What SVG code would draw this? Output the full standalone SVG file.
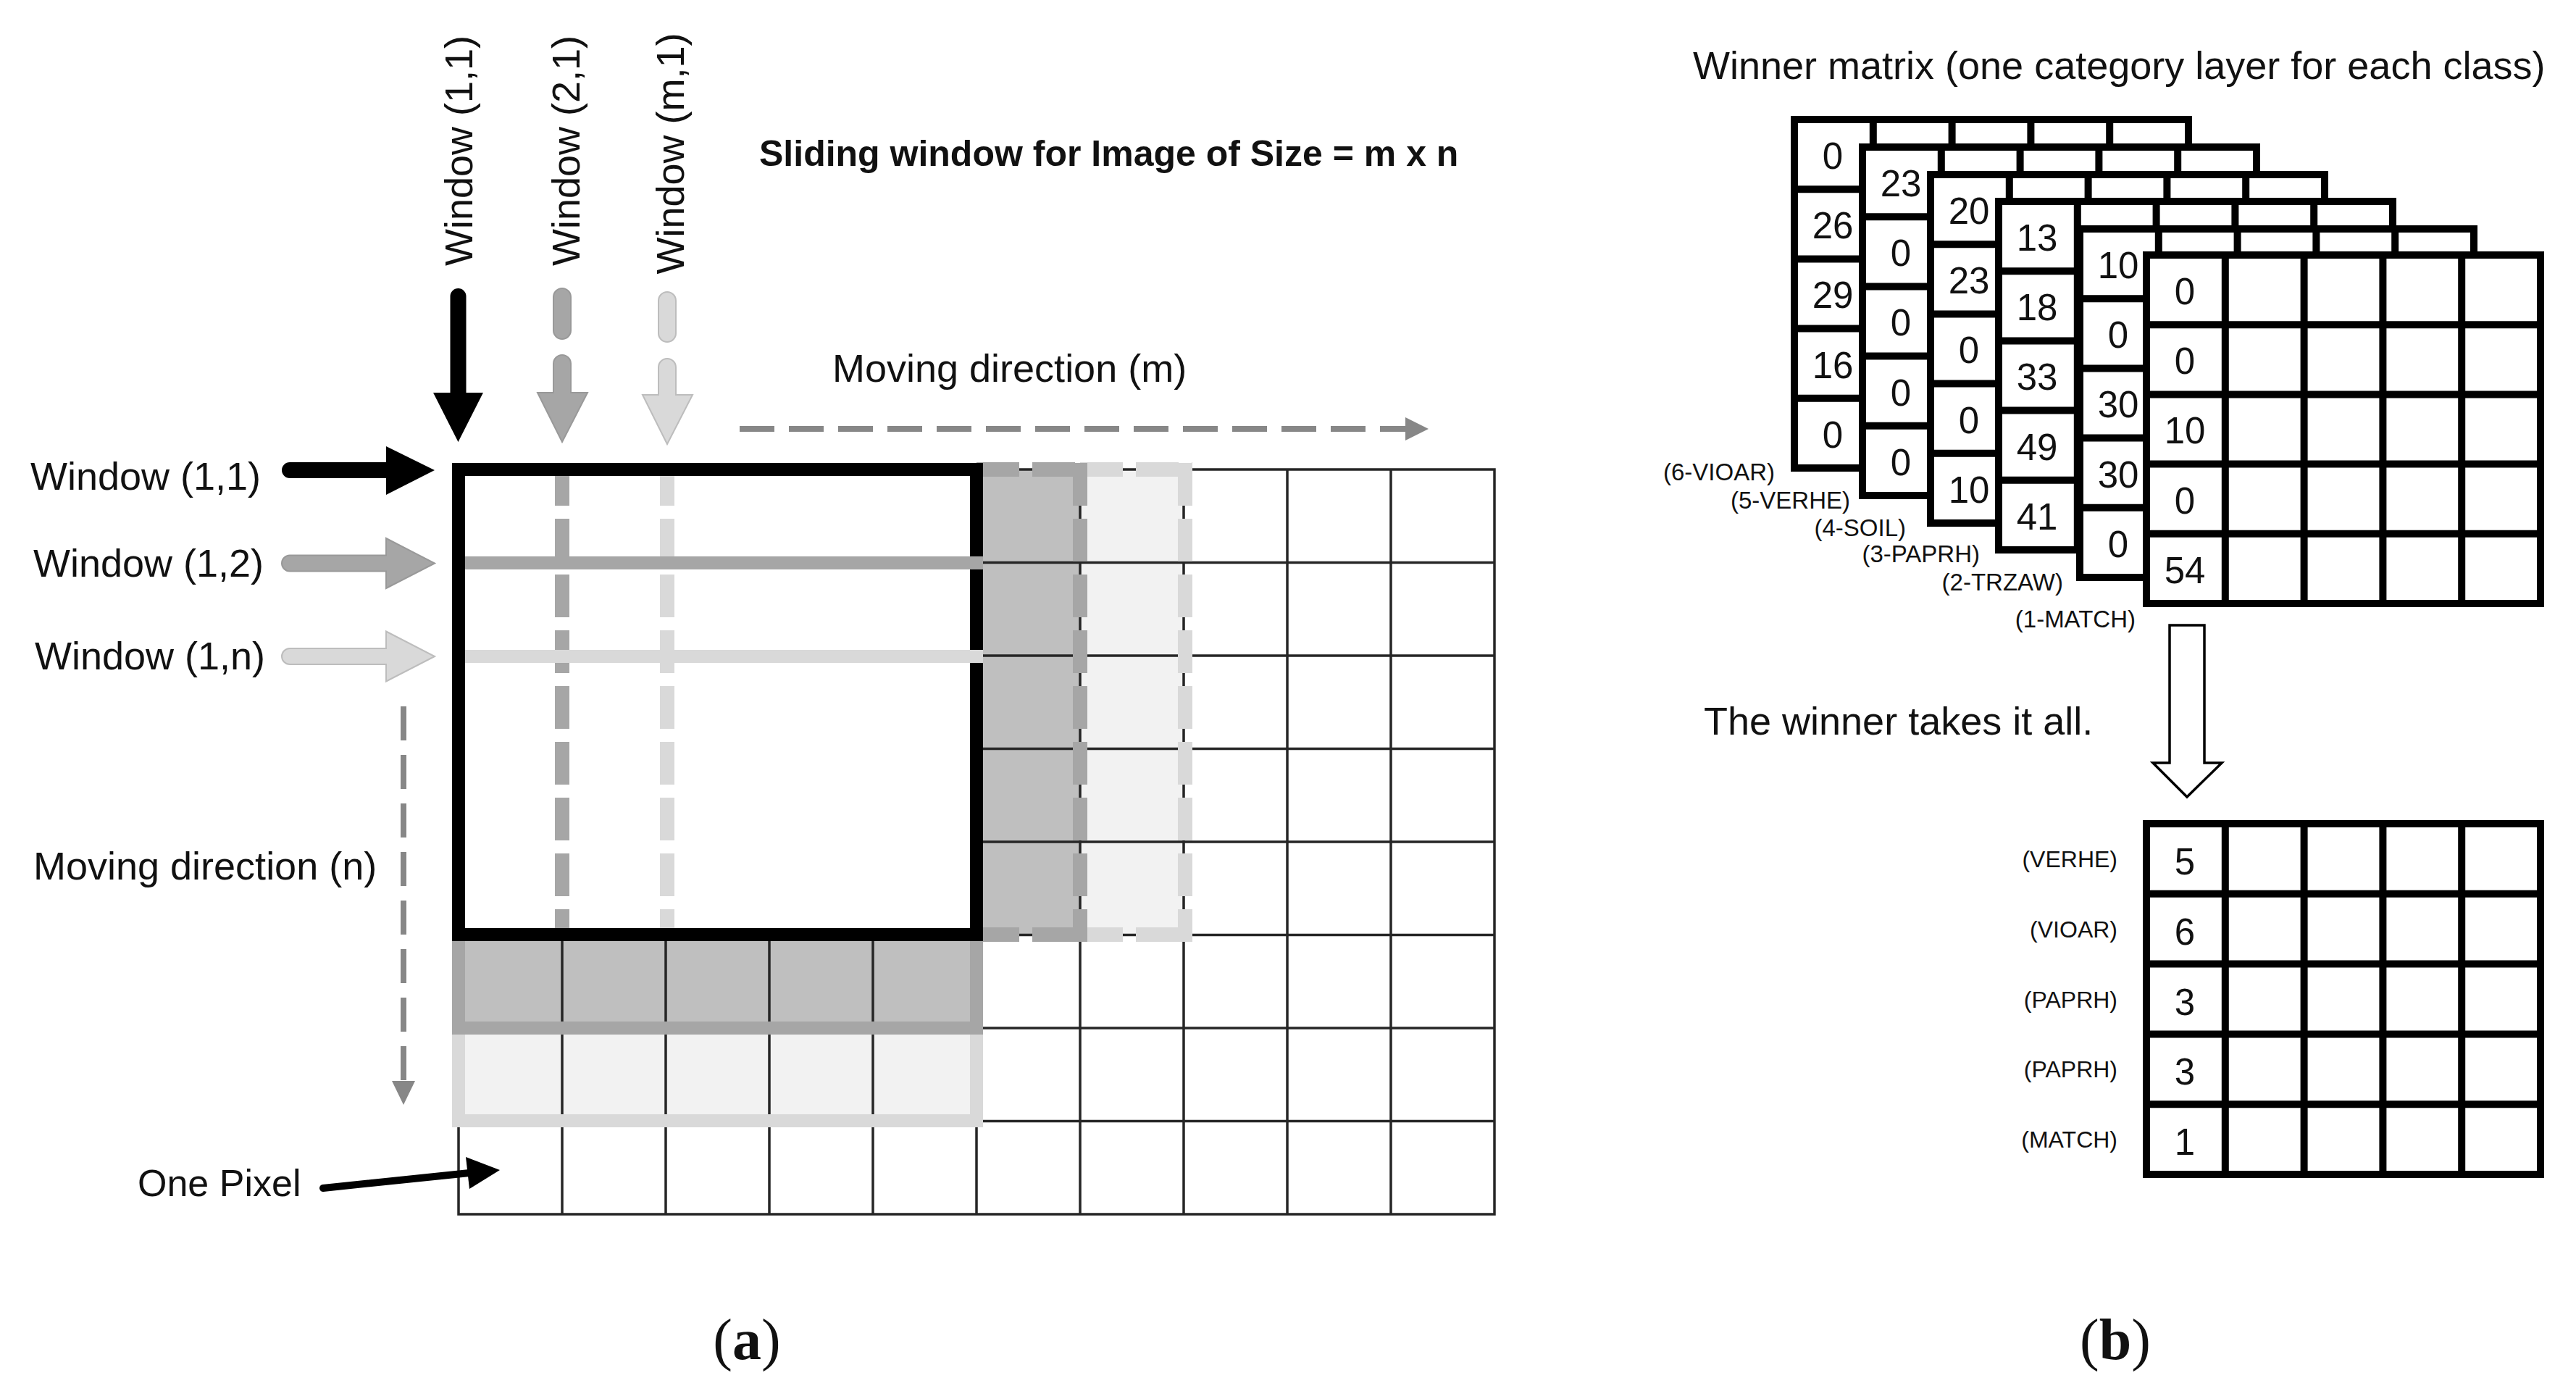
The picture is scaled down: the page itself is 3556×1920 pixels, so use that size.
<svg xmlns="http://www.w3.org/2000/svg" width="3556" height="1920" viewBox="0 0 3556 1920">
<style>
text{font-family:"Liberation Sans",Arial,sans-serif;fill:#111}
.l54{font-size:54px}
.num{font-size:51px;text-anchor:middle}
.cls{font-size:33px;text-anchor:end}
.rcl{font-size:32px;text-anchor:end}
.grid{fill:none;stroke:#262626;stroke-width:3.5;stroke-linecap:square}
.mat{fill:none;stroke:#000;stroke-width:10}
.dg{fill:none;stroke:#a6a6a6;stroke-width:20;stroke-dasharray:59 18}
.dl{fill:none;stroke:#d9d9d9;stroke-width:20;stroke-dasharray:59 18}
.mv{fill:none;stroke:#878787;stroke-width:8}
.cap{font-family:"Liberation Serif","Times New Roman",serif;font-size:80px;text-anchor:middle}
</style>
<defs>
<g id="m5">
<rect x="0" y="0" width="544" height="481" fill="#fff" stroke="#000" stroke-width="10"/>
<path class="mat" d="M108.8 0V481M217.6 0V481M326.4 0V481M435.2 0V481M0 96.2H544M0 192.4H544M0 288.6H544M0 384.8H544"/>
</g>
</defs>
<rect width="3556" height="1920" fill="#fff"/>

<!-- Panel (a) -->
<g id="pixel-grid">
<rect x="1348" y="648" width="143" height="642" fill="#bfbfbf"/>
<rect x="1491" y="648" width="145" height="642" fill="#f2f2f2"/>
<rect x="633" y="1290" width="715" height="129" fill="#bfbfbf"/>
<rect x="633" y="1419" width="715" height="128" fill="#f2f2f2"/>
<path class="grid" d="M633 648V1676M776 648V1676M919 648V1676M1062 648V1676M1205 648V1676M1348 648V1676M1491 648V1676M1634 648V1676M1777 648V1676M1920 648V1676M2063 648V1676M633 648H2063M633 776.5H2063M633 905H2063M633 1033.5H2063M633 1162H2063M633 1290.5H2063M633 1419H2063M633 1547.5H2063M633 1676H2063"/>
<rect x="633" y="648" width="715" height="642" fill="#fff"/>
</g>
<g id="window-m-1">
<path class="dl" d="M921 639V1290"/>
<path class="dl" d="M1636 639V1300"/>
<path class="dl" d="M1491 648H1646"/>
<path class="dl" d="M1491 1290H1646"/>
</g>
<g id="window-2-1">
<path class="dg" d="M776 639V1290"/>
<path class="dg" d="M1491 639V1300"/>
<path class="dg" d="M1348 648H1501"/>
<path class="dg" d="M1348 1290H1501"/>
</g>
<g id="window-1-n">
<rect x="633" y="906" width="715" height="641" fill="none" stroke="#d9d9d9" stroke-width="18"/>
</g>
<g id="window-1-2">
<rect x="633" y="777" width="715" height="642" fill="none" stroke="#a6a6a6" stroke-width="18"/>
</g>
<g id="window-1-1">
<rect x="633" y="648" width="715" height="642" fill="none" stroke="#000" stroke-width="18"/>
</g>
<g id="window-row-lines">
<path d="M642 906H1357" stroke="#d9d9d9" stroke-width="18"/>
<path d="M642 777H1357" stroke="#a6a6a6" stroke-width="18"/>
</g>

<g id="connectors">
<path d="M621.5 542V409A11 11 0 0 1 643.5 409V542H667L632.5 610L598 542Z" fill="#000"/>
<rect x="764" y="398" width="24" height="70" rx="12" fill="#a6a6a6" stroke="#999" stroke-width="2"/>
<path d="M764 542V502A12 12 0 0 1 788 502V542H811L776 610L742 542Z" fill="#a6a6a6" stroke="#999" stroke-width="2"/>
<rect x="909" y="403" width="24" height="69" rx="12" fill="#d9d9d9" stroke="#bdbdbd" stroke-width="2"/>
<path d="M909 545V507A12 12 0 0 1 933 507V545H956L921 613L887 545Z" fill="#d9d9d9" stroke="#bdbdbd" stroke-width="2"/>
<path d="M600 649L533 683V660H400A11 11 0 0 1 400 638H533V616Z" fill="#000"/>
<path d="M600 777.5L533 812V788.5H400A11 11 0 0 1 400 766.5H533V743Z" fill="#a6a6a6" stroke="#999" stroke-width="2"/>
<path d="M600 906L533 940.5V917H400A11 11 0 0 1 400 895H533V871.5Z" fill="#d9d9d9" stroke="#bdbdbd" stroke-width="2"/>
<path class="mv" d="M557 975V1493" stroke-dasharray="47 20"/>
<polygon points="541,1492 573,1492 557,1525" fill="#878787"/>
<path class="mv" d="M1021 592H1941" stroke-dasharray="48 20"/>
<polygon points="1940,576 1940,608 1972,592" fill="#878787"/>
<line x1="446" y1="1640" x2="648" y2="1619" stroke="#000" stroke-width="10" stroke-linecap="round"/>
<polygon points="643,1597 648,1641 690,1615" fill="#000"/>
<polygon points="2995,863 3043,863 3043,1053 3067,1053 3019,1100 2972,1053 2995,1053" fill="#fff" stroke="#000" stroke-width="3.5"/>
</g>

<g id="labels-a">
<text class="l54" transform="translate(652,208) rotate(-90)" text-anchor="middle">Window (1,1)</text>
<text class="l54" transform="translate(800,208) rotate(-90)" text-anchor="middle">Window (2,1)</text>
<text class="l54" transform="translate(944,212) rotate(-90)" text-anchor="middle">Window (m,1)</text>
<text x="1048" y="229" font-size="50" font-weight="bold">Sliding window for Image of Size = m x n</text>
<text class="l54" x="1149" y="527">Moving direction (m)</text>
<text class="l54" x="42" y="676">Window (1,1)</text>
<text class="l54" x="46" y="796">Window (1,2)</text>
<text class="l54" x="48" y="924">Window (1,n)</text>
<text class="l54" x="46" y="1214">Moving direction (n)</text>
<text x="190" y="1651" font-size="52">One Pixel</text>
<text class="cap" x="1031" y="1876">(<tspan font-weight="bold">a</tspan>)</text>
</g>

<!-- Panel (b) -->
<text class="l54" x="2337" y="109">Winner matrix (one category layer for each class)</text>
<g id="layer-6-vioar" transform="translate(2477,165)">
<use href="#m5"/>
<text class="num" x="53" y="68">0</text><text class="num" x="53" y="164.2">26</text><text class="num" x="53" y="260.4">29</text><text class="num" x="53" y="356.6">16</text><text class="num" x="53" y="452.8">0</text>
</g>
<g id="layer-5-verhe" transform="translate(2571,203)">
<use href="#m5"/>
<text class="num" x="53" y="68">23</text><text class="num" x="53" y="164.2">0</text><text class="num" x="53" y="260.4">0</text><text class="num" x="53" y="356.6">0</text><text class="num" x="53" y="452.8">0</text>
</g>
<g id="layer-4-soil" transform="translate(2665,241)">
<use href="#m5"/>
<text class="num" x="53" y="68">20</text><text class="num" x="53" y="164.2">23</text><text class="num" x="53" y="260.4">0</text><text class="num" x="53" y="356.6">0</text><text class="num" x="53" y="452.8">10</text>
</g>
<g id="layer-3-paprh" transform="translate(2759,278)">
<use href="#m5"/>
<text class="num" x="53" y="68">13</text><text class="num" x="53" y="164.2">18</text><text class="num" x="53" y="260.4">33</text><text class="num" x="53" y="356.6">49</text><text class="num" x="53" y="452.8">41</text>
</g>
<g id="layer-2-trzaw" transform="translate(2871,316)">
<use href="#m5"/>
<text class="num" x="53" y="68">10</text><text class="num" x="53" y="164.2">0</text><text class="num" x="53" y="260.4">30</text><text class="num" x="53" y="356.6">30</text><text class="num" x="53" y="452.8">0</text>
</g>
<g id="layer-1-match" transform="translate(2963,352)">
<use href="#m5"/>
<text class="num" x="53" y="68">0</text><text class="num" x="53" y="164.2">0</text><text class="num" x="53" y="260.4">10</text><text class="num" x="53" y="356.6">0</text><text class="num" x="53" y="452.8">54</text>
</g>
<g id="layer-labels">
<text class="cls" x="2450" y="663">(6-VIOAR)</text>
<text class="cls" x="2554" y="702">(5-VERHE)</text>
<text class="cls" x="2631" y="740">(4-SOIL)</text>
<text class="cls" x="2733" y="776">(3-PAPRH)</text>
<text class="cls" x="2848" y="815">(2-TRZAW)</text>
<text class="cls" x="2948" y="866">(1-MATCH)</text>
</g>
<text class="l54" x="2352" y="1014">The winner takes it all.</text>
<g id="result-matrix" transform="translate(2963,1137)">
<rect x="0" y="0" width="544" height="484" fill="#fff" stroke="#000" stroke-width="10"/>
<path class="mat" d="M108.8 0V484M217.6 0V484M326.4 0V484M435.2 0V484M0 96.8H544M0 193.6H544M0 290.4H544M0 387.2H544"/>
<text class="num" x="53" y="70">5</text><text class="num" x="53" y="166.8">6</text><text class="num" x="53" y="263.6">3</text><text class="num" x="53" y="360.4">3</text><text class="num" x="53" y="457.2">1</text>
</g>
<g id="result-labels">
<text class="rcl" x="2923" y="1197">(VERHE)</text>
<text class="rcl" x="2923" y="1293.8">(VIOAR)</text>
<text class="rcl" x="2923" y="1390.6">(PAPRH)</text>
<text class="rcl" x="2923" y="1487.4">(PAPRH)</text>
<text class="rcl" x="2923" y="1584.2">(MATCH)</text>
</g>
<text class="cap" x="2920" y="1876">(<tspan font-weight="bold">b</tspan>)</text>
</svg>
